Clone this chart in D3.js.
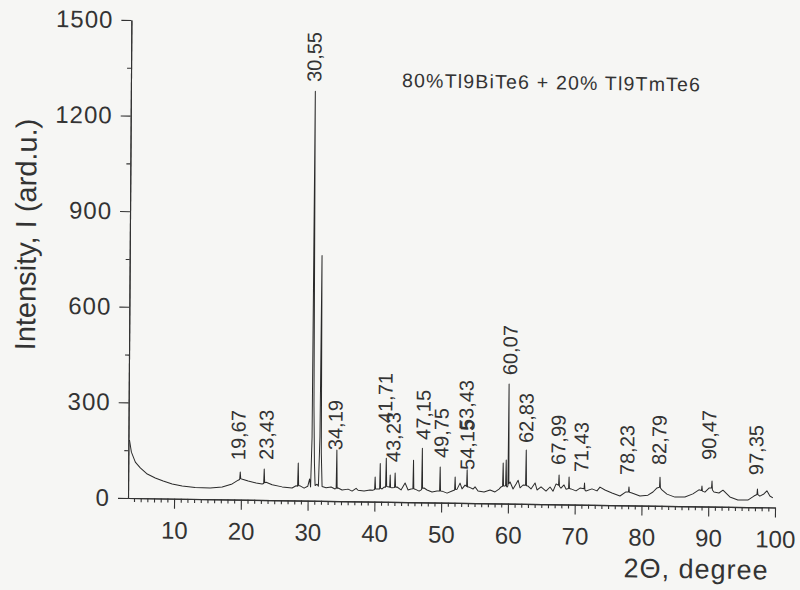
<!DOCTYPE html>
<html><head><meta charset="utf-8">
<script src="https://cdn.jsdelivr.net/npm/d3@7"></script>
<style>
html,body{margin:0;padding:0;background:#f6f6f4;}
svg{display:block;}
text{font-family:"Liberation Sans",Arial,Helvetica,sans-serif;fill:#333;}
</style></head><body>
<svg id="chart" width="800" height="590"></svg>
<script>
// XRD pattern: [2theta, intensity]
const patternPoints = [
[3.26,182],[3.56,144],[4.16,113],[4.91,95],[5.96,76],[7.16,64],[8.35,55],[9.70,46],[11.2,40],[13.14,36],
[15.39,35],[17.19,39],[18.68,49],[19.58,61],[19.8,63],[19.88,87],[19.96,66],[20.1,65],[21.08,59],[22.28,53],
[23.17,50],[23.4,52],[23.47,97],[23.55,54],[23.77,56],[24.67,48],[26.17,42],[27.66,39],[28.26,46],[28.48,45],
[28.56,118],[28.64,46],[28.86,46],[29.46,39],[30.0,45],[30.28,68],[30.43,43],[30.6,200],[30.72,1285],[30.85,300],
[30.98,120],[31.1,48],[31.4,52],[31.6,46],[31.78,200],[31.9,770],[32.0,150],[32.15,45],[32.75,41],[33.5,44],
[34.1,38],[34.26,40],[34.33,160],[34.41,40],[34.55,41],[35.15,35],[36.05,38],[36.65,32],[37.25,41],[37.54,35],
[38.44,33],[39.34,36],[39.79,36],[40.02,38],[40.09,77],[40.16,40],[40.39,40],[40.77,40],[40.84,120],[40.91,42],
[41.14,40],[41.44,46],[41.66,46],[41.74,137],[41.82,48],[42.04,47],[42.27,46],[42.34,84],[42.41,45],[42.63,44],
[43.0,45],[43.08,91],[43.16,46],[43.38,47],[43.98,38],[44.58,60],[45.03,38],[45.48,41],[45.75,42],[45.82,132],
[45.89,42],[46.08,41],[46.68,35],[47.06,40],[47.13,170],[47.2,44],[47.43,45],[47.87,39],[48.62,33],[49.37,36],
[49.75,36],[49.82,112],[49.89,36],[50.12,36],[50.87,30],[51.62,37],[52.0,40],[52.07,81],[52.14,42],[52.37,43],
[52.81,62],[53.11,44],[53.56,56],[53.79,52],[53.86,104],[53.93,50],[54.16,50],[54.76,44],[55.06,51],[55.51,38],
[56.41,35],[57.31,42],[58.05,36],[58.65,45],[58.95,52],[59.18,54],[59.25,127],[59.32,55],[59.47,55],[59.63,56],
[59.70,137],[59.77,54],[59.88,52],[59.98,56],[60.05,375],[60.12,62],[60.3,68],[60.75,46],[61.2,62],[61.5,74],
[61.8,50],[62.25,59],[62.62,58],[62.69,169],[62.76,57],[62.99,56],[63.44,47],[64.04,66],[64.34,44],[64.94,54],
[65.69,41],[66.29,54],[66.74,41],[67.19,64],[67.56,60],[67.63,92],[67.7,56],[67.93,51],[68.38,61],[68.68,48],
[69.06,50],[69.13,86],[69.2,50],[69.43,49],[70.18,43],[70.78,52],[71.38,50],[71.45,68],[71.52,46],[71.68,43],
[72.57,50],[73.32,44],[73.77,56],[74.52,47],[75.57,38],[76.77,29],[77.66,42],[78.04,42],[78.11,58],[78.18,41],
[78.56,39],[79.76,30],[80.96,33],[81.71,43],[82.31,56],[82.68,58],[82.75,90],[82.82,56],[83.05,50],[83.80,37],
[85.0,28],[86.5,29],[87.69,39],[88.59,52],[88.97,50],[89.04,64],[89.11,48],[89.49,45],[90.09,58],[90.47,58],
[90.54,80],[90.61,52],[90.84,46],[91.59,43],[92.19,52],[93.23,31],[94.43,22],[95.93,22],[96.83,35],[97.28,40],
[97.35,57],[97.42,40],[97.72,35],[98.32,42],[98.77,52],[99.22,36],[99.67,30]
];

// peak labels
const peakLabels   = ["19,67","23,43","30,55","34,19","41,71","43,23","47,15","49,75","53,43","54,15","60,07","62,83","67,99","71,43","78,23","82,79","90,47","97,35"];
const peakLabelX   = [19.54, 23.73, 30.51, 34.06, 41.51, 42.75, 47.22, 49.93, 53.64, 53.83, 60.16, 62.63, 67.46, 70.90, 77.78, 82.57, 90.04, 97.10];
const peakLabelY   = [124,   126,   1314,  160,   247,   125,   196,   140,   229,   104,   403,   191,   124,   102,   95,    128,   146,   101];

const xTicks = [10,20,30,40,50,60,70,80,90,100];
const xMinorTicks = d3.range(4,101).filter(v => v % 10 !== 0);
const yTicks = [0,300,600,900,1200,1500];
const yMinorTicks = [150,450,750,1050,1350];

const annotationText = "80%Tl9BiTe6 + 20% Tl9TmTe6";
const xTitle = "2\u0398, degree";
const yTitle = "Intensity, I (ard.u.)";

const svg = d3.select("#chart");
svg.append("rect").attr("width",800).attr("height",590).attr("fill","#f6f6f4");

// slight skew of the scanned original
const g = svg.append("g").attr("transform","matrix(1,0.0147,-0.0071,1,3.54,-1.88)");

const x = d3.scaleLinear().domain([3.1,100]).range([128,775]);
const y = d3.scaleLinear().domain([0,1500]).range([498,20]);

const ink = "#333";

function styleAxis(sel, fs, ls){
  sel.selectAll("path,line").attr("stroke",ink).attr("stroke-width",1.1);
  sel.selectAll("text").attr("font-size",fs).attr("fill",ink)
     .attr("font-family","Liberation Sans, Arial, sans-serif")
     .style("letter-spacing", ls);
}

// minor ticks
g.append("g").attr("transform","translate(0,498)")
  .call(d3.axisBottom(x).tickValues(xMinorTicks).tickSize(4).tickSizeOuter(0).tickFormat(""))
  .call(s=>styleAxis(s,0,"0px"));
g.append("g").attr("transform","translate(128,0)")
  .call(d3.axisLeft(y).tickValues(yMinorTicks).tickSize(4).tickSizeOuter(0).tickFormat(""))
  .call(s=>styleAxis(s,0,"0px"));

// major axes
g.append("g").attr("transform","translate(0,498)")
  .call(d3.axisBottom(x).tickValues(xTicks).tickSize(10).tickSizeOuter(0).tickPadding(13).tickFormat(d3.format("d")))
  .call(s=>styleAxis(s,24,"0px"));
g.append("g").attr("transform","translate(128,0)")
  .call(d3.axisLeft(y).tickValues(yTicks).tickSize(10).tickSizeOuter(0).tickPadding(8).tickFormat(d3.format("d")))
  .call(s=>styleAxis(s,24,"1px"));

// pattern line
const line = d3.line().x(d=>x(d[0])).y(d=>y(d[1]));
g.append("path").datum(patternPoints)
  .attr("d",line).attr("fill","none").attr("stroke","#2a2a2a").attr("stroke-width",1)
  .attr("stroke-linejoin","round");

// peak labels
g.append("g").selectAll("text").data(peakLabels).join("text")
  .attr("transform",(d,i)=>`translate(${x(peakLabelX[i])},${y(peakLabelY[i])}) rotate(-90)`)
  .attr("dy","0.36em")
  .attr("font-size",20)
  .attr("fill",ink)
  .text(d=>d);

// annotation
g.append("text").attr("x",x(43.7)).attr("y",y(1302))
  .attr("font-size",19.5).style("letter-spacing","1.2px").attr("fill",ink)
  .text(annotationText);

// titles
g.append("text").attr("transform","translate(34,236) rotate(-90)")
  .attr("text-anchor","middle").attr("font-size",29).attr("fill",ink)
  .text(yTitle);
g.append("text").attr("x",624).attr("y",570)
  .attr("font-size",27).style("letter-spacing","1px").attr("fill",ink)
  .text(xTitle);
</script>
</body></html>
